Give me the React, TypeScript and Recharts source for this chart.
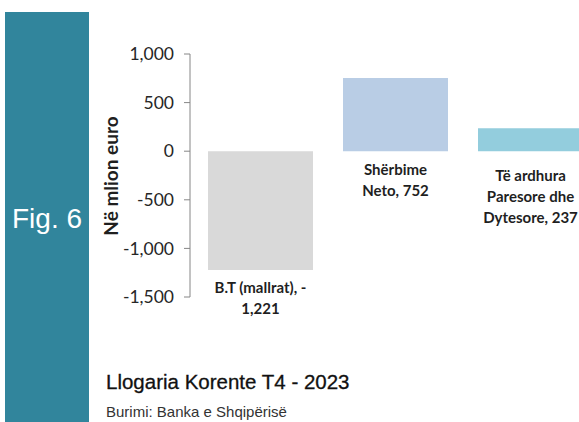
import { BarChart, Bar, XAxis, YAxis, Cell, LabelList } from 'recharts'

const categories = ['B.T (mallrat)', 'Shërbime Neto', 'Të ardhura Paresore dhe Dytesore']
const values = [-1221, 752, 237]
const labelLines = [
  ['B.T (mallrat), -', '1,221'],
  ['Shërbime', 'Neto, 752'],
  ['Të ardhura', 'Paresore dhe', 'Dytesore, 237'],
]
const yTicks = [1000, 500, 0, -500, -1000, -1500]
const barColors = ['#D9D9D9', '#B9CDE5', '#93CDDD']

const chartData = categories.map((name, i) => ({ name, value: values[i] }))

const renderBarLabel = (props: any) => {
  const vb = props.viewBox ?? props
  const x = Number(vb.x)
  const y = Number(vb.y)
  const width = Number(vb.width)
  const height = Number(vb.height)
  const lines = labelLines[props.index] ?? []
  const bottom = Math.max(y, y + height)
  const cx = x + width / 2
  const first = bottom + 4.5 + 6.5 * lines.length
  return (
    <text textAnchor="middle" fill="#1F1F1F" fontFamily="Lato" fontWeight="bold" fontSize={15}>
      {lines.map((line, i) => (
        <tspan key={i} x={cx} y={first + i * 21} dominantBaseline="central">
          {line}
        </tspan>
      ))}
    </text>
  )
}

const renderYLabel = () => (
  <text
    x={110}
    y={176}
    transform="rotate(-90, 110, 176)"
    textAnchor="middle"
    dominantBaseline="central"
    fontFamily="Lato"
    fontWeight="bold"
    fontSize={19}
    fill="#1F1F1F"
  >
    Në mlion euro
  </text>
)

export default function App() {
  return (
    <div
      style={{
        position: 'fixed',
        left: 0,
        top: 0,
        width: 579,
        height: 422,
        overflow: 'hidden',
        background: '#FFFFFF',
      }}
    >
      <div
        style={{
          position: 'absolute',
          left: 5,
          top: 12,
          width: 84,
          height: 410,
          background: '#31859C',
        }}
      >
        <div
          style={{
            position: 'absolute',
            left: 0,
            width: 84,
            top: 193,
            textAlign: 'center',
            color: '#FFFFFF',
            fontFamily: 'Liberation Sans',
            fontSize: 28,
            lineHeight: 1,
          }}
        >
          Fig. 6
        </div>
      </div>

      <div style={{ position: 'absolute', left: 0, top: 0 }}>
        <BarChart
          width={600}
          height={330}
          data={chartData}
          margin={{ top: 54, right: 2, left: 110, bottom: 33 }}
        >
          <XAxis dataKey="name" hide padding={{ left: 3, right: 0 }} />
          <YAxis
            width={80}
            domain={[-1500, 1000]}
            ticks={yTicks}
            interval={0}
            tickFormatter={(v: number) => v.toLocaleString('en-US')}
            axisLine={{ stroke: '#868686', strokeWidth: 1 }}
            tickLine={{ stroke: '#868686', strokeWidth: 1 }}
            tickSize={6}
            tickMargin={10}
            tick={{ fill: '#262626', fontSize: 17.5, fontFamily: 'Lato' }}
            label={renderYLabel}
          />
          <Bar dataKey="value" barSize={105} isAnimationActive={false}>
            {chartData.map((_, index) => (
              <Cell key={`cell-${index}`} fill={barColors[index % barColors.length]} />
            ))}
            <LabelList dataKey="value" content={renderBarLabel} />
          </Bar>
        </BarChart>
      </div>

      <div
        style={{
          position: 'absolute',
          left: 106,
          top: 372,
          fontFamily: 'Liberation Sans',
          fontSize: 20.5,
          lineHeight: 1,
          color: '#111111',
          whiteSpace: 'nowrap',
          WebkitTextStroke: '0.3px #111111',
        }}
      >
        Llogaria Korente T4 - 2023
      </div>
      <div
        style={{
          position: 'absolute',
          left: 106,
          top: 404,
          fontFamily: 'Liberation Sans',
          fontSize: 15,
          lineHeight: 1,
          color: '#333333',
          whiteSpace: 'nowrap',
        }}
      >
        Burimi: Banka e Shqipërisë
      </div>
    </div>
  )
}
